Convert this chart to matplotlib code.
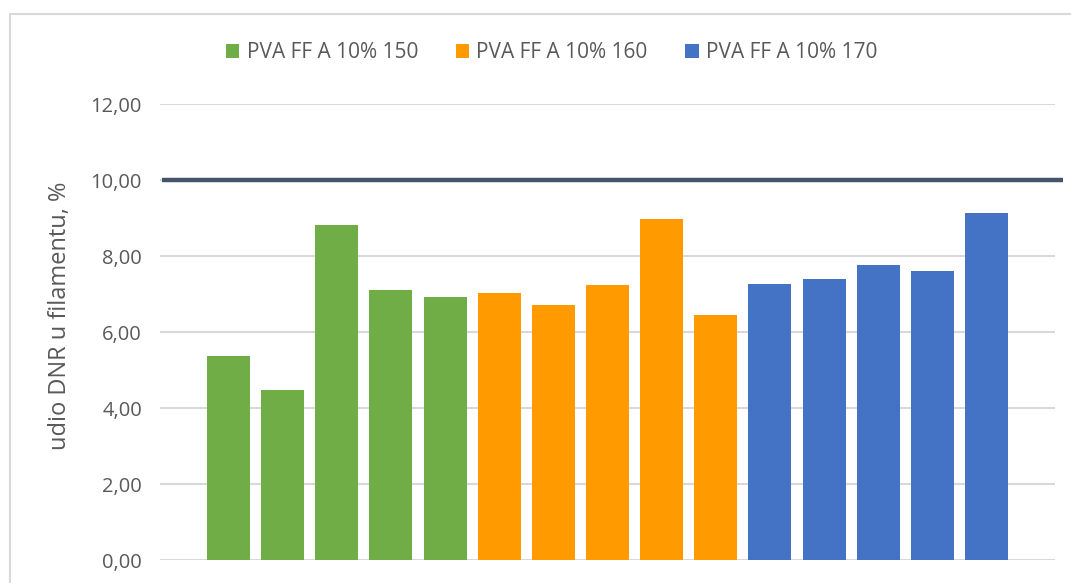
import matplotlib.pyplot as plt
from matplotlib.patches import Rectangle, Patch

plt.rcParams["font.family"] = ["Open Sans", "DejaVu Sans"]

series = ["PVA FF A 10% 150", "PVA FF A 10% 160", "PVA FF A 10% 170"]
colors = ["#70AD47", "#FF9A00", "#4472C4"]
values_150 = [5.37, 4.48, 8.81, 7.10, 6.92]
values_160 = [7.02, 6.71, 7.24, 8.97, 6.45]
values_170 = [7.26, 7.39, 7.76, 7.60, 9.13]
limit = 10.0
yticks = [0, 2, 4, 6, 8, 10, 12]
ylabel = "udio DNR u filamentu, %"

fig = plt.figure(figsize=(10.71, 5.83), dpi=100)
ax = fig.add_axes([0.1494, 0.0389, 0.8357, 0.7827])

# outer chart frame, cut by the right and bottom edges like the screenshot
fig.patches.append(Rectangle((9.5 / 1071, -0.1), 1.2, 1 - 14 / 583 + 0.1,
                             transform=fig.transFigure, fill=False,
                             edgecolor="#d9d9d9", linewidth=1.5))

grey = "#595959"
x = 0
for vals, color in zip([values_150, values_160, values_170], colors):
    pos = list(range(x, x + len(vals)))
    ax.bar(pos, vals, width=0.795, color=color, zorder=2)
    x += len(vals)

n = x
pad = 1.266
ax.set_xlim(-pad, n - 1 + pad)
ax.set_ylim(0, 12)

# limit line runs a little past the plot area on the right
ax.plot([-1.23, 15.41], [limit, limit], color="#44546A", linewidth=3.2,
        solid_capstyle="butt", clip_on=False, zorder=3)

ax.set_yticks(yticks)
ax.set_yticklabels([f"{v:.2f}".replace(".", ",") for v in yticks])
ax.set_xticks([])
ax.tick_params(axis="y", length=0, pad=13, labelsize=14.5, labelcolor=grey)
ax.grid(axis="y", color="#d9d9d9", linewidth=1.5, zorder=0)
ax.set_axisbelow(True)
for s in ax.spines.values():
    s.set_visible(False)

fig.text(60 / 1071, 1 - 316 / 583, ylabel, rotation=90, ha="center", va="center",
         fontsize=17, color=grey)

handles = [Patch(facecolor=c, edgecolor="none") for c in colors]
fig.legend(handles, series, loc="center", bbox_to_anchor=(0.515, 1 - 53 / 583),
           ncol=3, frameon=False, fontsize=15, labelcolor=grey,
           handlelength=0.65, handleheight=0.65, handletextpad=0.35, columnspacing=1.8)

fig.savefig("out.png", dpi=100)
